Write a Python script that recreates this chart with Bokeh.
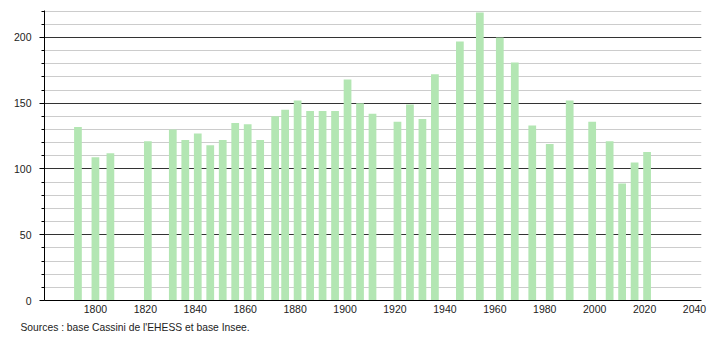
from bokeh.plotting import figure
from bokeh.models import Range1d, SingleIntervalTicker, Title, FixedTicker
from bokeh.embed import file_html
from bokeh.resources import INLINE

years = [1793, 1800, 1806, 1821, 1831, 1836, 1841, 1846, 1851, 1856, 1861, 1866,
         1872, 1876, 1881, 1886, 1891, 1896, 1901, 1906, 1911, 1921, 1926, 1931,
         1936, 1946, 1954, 1962, 1968, 1975, 1982, 1990, 1999, 2006, 2011, 2016, 2021]
population = [132, 109, 112, 121, 130, 122, 127, 118, 122, 135, 134, 122,
              140, 145, 152, 144, 144, 144, 168, 150, 142, 136, 149, 138,
              172, 197, 219, 200, 181, 133, 119, 152, 136, 121, 89, 105, 113]
x_ticks = [1800, 1820, 1840, 1860, 1880, 1900, 1920, 1940, 1960, 1980, 2000, 2020, 2040]
source_text = "Sources : base Cassini de l'EHESS et base Insee."

FONT = "Liberation Sans"

p = figure(width=710, height=340, output_backend="svg", toolbar_location=None,
           x_range=Range1d(1779.6, 2042.8), y_range=Range1d(0, 220.5),
           min_border_left=44, min_border_right=9, min_border_top=10, min_border_bottom=40)
p.outline_line_color = None
p.background_fill_color = "white"
p.border_fill_color = "white"

# grid
p.xgrid.grid_line_color = None
p.yaxis.ticker = SingleIntervalTicker(interval=50, num_minor_ticks=5)
p.ygrid.grid_line_color = "#333333"
p.ygrid.grid_line_width = 1
p.ygrid.minor_grid_line_color = "#cccccc"
p.ygrid.minor_grid_line_width = 1

p.vbar(x=years, top=population, width=3.1, bottom=0,
       fill_color="#b3e6b3", line_color=None)

# x axis
p.xaxis.ticker = FixedTicker(ticks=x_ticks)
p.xaxis.major_tick_out = 0
p.xaxis.major_tick_in = 0
p.xaxis.minor_tick_out = 0
p.xaxis.minor_tick_in = 0
p.xaxis.axis_line_color = "black"
p.xaxis.major_label_standoff = 4
p.xaxis.major_label_text_font = FONT
p.xaxis.major_label_text_font_size = "10.5px"
p.xaxis.major_label_text_color = "#222222"

# y axis
p.yaxis.axis_line_color = "black"
p.yaxis.major_tick_out = 5
p.yaxis.major_tick_in = 0
p.yaxis.minor_tick_out = 3
p.yaxis.minor_tick_in = 0
p.yaxis.major_tick_line_color = "black"
p.yaxis.minor_tick_line_color = "black"
p.yaxis.major_label_standoff = 8
p.yaxis.major_label_text_font = FONT
p.yaxis.major_label_text_font_size = "10.5px"
p.yaxis.major_label_text_color = "#222222"

src = Title(text=source_text, align="left", offset=-24, standoff=9,
            text_font=FONT, text_font_size="10.3px", text_font_style="normal",
            text_color="#222222")
p.add_layout(src, "below")

open("out.html", "w").write(file_html(p, INLINE))
